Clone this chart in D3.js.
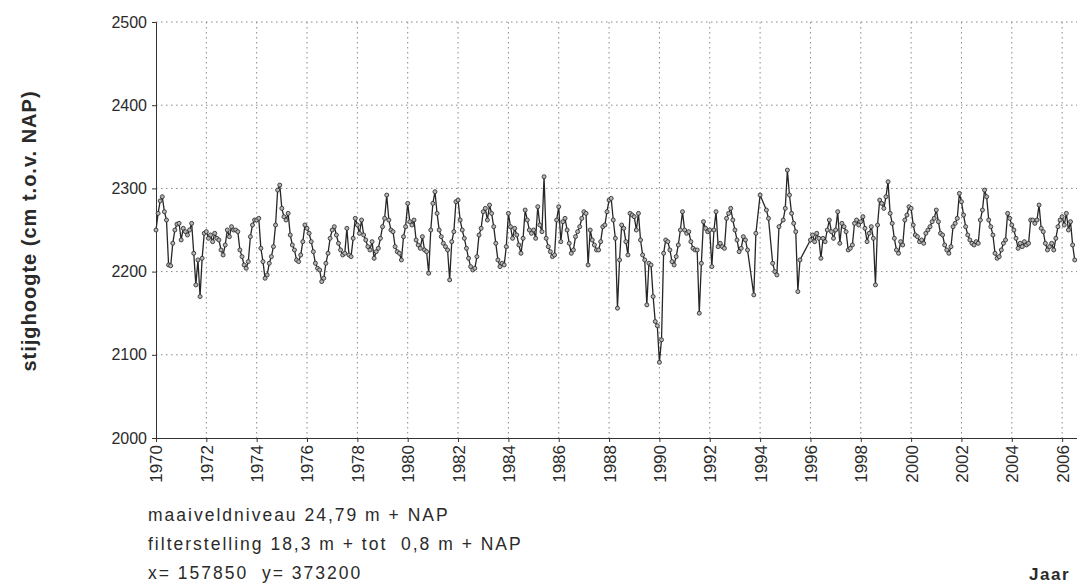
<!DOCTYPE html>
<html>
<head>
<meta charset="utf-8">
<script src="https://cdn.jsdelivr.net/npm/d3@7"></script>
<style>
  html, body { margin: 0; padding: 0; background: #fff; }
  svg { display: block; }
  text { font-family: "Liberation Sans", Arial, sans-serif; fill: #2a2a2a; }
</style>
</head>
<body>
<svg id="chart" width="1077" height="583"></svg>
<script>
// ---- data: monthly groundwater head (cm t.o.v. NAP), Jan 1970 onward (null = no reading)
const startYear = 1970;
const levels = [
  /*1970*/ 2250, 2270, 2285, 2290, 2272, 2262, 2208, 2207, 2234, 2250, 2257, 2258,
  /*1971*/ 2238, 2252, 2248, 2244, 2250, 2258, 2222, 2184, 2214, 2170, 2216, 2246,
  /*1972*/ 2248, 2240, 2244, 2236, 2246, 2240, 2238, 2226, 2220, 2232, 2250, 2242,
  /*1973*/ 2254, 2250, 2250, 2248, 2226, 2218, 2208, 2204, 2212, 2242, 2256, 2262,
  /*1974*/ 2262, 2264, 2228, 2212, 2192, 2196, 2210, 2218, 2230, 2256, 2298, 2304,
  /*1975*/ 2276, 2266, 2262, 2270, 2244, 2232, 2226, 2214, 2212, 2220, 2236, 2256,
  /*1976*/ 2252, 2246, 2236, 2224, 2210, 2204, 2202, 2188, 2192, 2210, 2222, 2240,
  /*1977*/ 2250, 2254, 2244, 2234, 2226, 2220, 2222, 2252, 2220, 2218, 2240, 2264,
  /*1978*/ 2256, 2246, 2262, 2244, 2238, 2230, 2226, 2236, 2216, 2224, 2228, 2240,
  /*1979*/ 2254, 2264, 2292, 2262, 2250, 2248, 2230, 2224, 2222, 2214, 2242, 2254,
  /*1980*/ 2282, 2260, 2256, 2262, 2238, 2232, 2228, 2242, 2226, 2224, 2198, 2250,
  /*1981*/ 2282, 2296, 2270, 2250, 2242, 2234, 2230, 2226, 2190, 2236, 2248, 2284,
  /*1982*/ 2286, 2262, 2250, 2240, 2228, 2216, 2206, 2202, 2204, 2218, 2244, 2252,
  /*1983*/ 2272, 2276, 2262, 2280, 2270, 2254, 2234, 2214, 2206, 2210, 2208, 2230,
  /*1984*/ 2270, 2254, 2240, 2252, 2244, 2232, 2222, 2240, 2274, 2262, 2250, 2246,
  /*1985*/ 2250, 2240, 2278, 2256, 2248, 2314, 2240, 2230, 2224, 2218, 2220, 2262,
  /*1986*/ 2278, 2236, 2260, 2264, 2250, 2234, 2222, 2226, 2242, 2248, 2254, 2264,
  /*1987*/ 2272, 2270, 2208, 2250, 2238, 2232, 2226, 2226, 2236, 2254, 2256, 2272,
  /*1988*/ 2286, 2288, 2262, 2240, 2156, 2214, 2256, 2252, 2236, 2220, 2270, 2268,
  /*1989*/ 2266, 2250, 2270, 2238, 2220, 2214, 2160, 2210, 2208, 2170, 2140, 2135,
  /*1990*/ 2091, 2118, 2222, 2238, 2236, 2226, 2212, 2208, 2218, 2232, 2250, 2272,
  /*1991*/ 2250, 2246, 2248, 2236, 2228, 2226, 2226, 2150, 2210, 2260, 2252, 2248,
  /*1992*/ 2250, 2206, 2250, 2272, 2230, 2234, 2230, 2228, 2264, 2270, 2276, 2262,
  /*1993*/ 2250, 2238, 2224, 2228, 2242, 2238, 2226, null, null, 2172, 2246, null,
  /*1994*/ 2292, null, null, 2274, 2264, null, 2210, 2200, 2196, 2254, null, 2262,
  /*1995*/ 2276, 2322, 2292, 2270, 2258, 2248, 2176, 2214, null, null, null, null,
  /*1996*/ 2238, 2244, 2236, 2246, 2240, 2216, 2240, 2236, 2250, 2262, 2248, 2240,
  /*1997*/ 2250, 2272, 2234, 2258, 2254, 2248, 2226, 2228, 2232, 2258, 2262, 2256,
  /*1998*/ 2260, 2266, 2252, 2236, 2246, 2254, 2240, 2184, 2256, 2286, 2282, 2276,
  /*1999*/ 2290, 2308, 2270, 2258, 2240, 2226, 2222, 2236, 2232, 2262, 2268, 2278,
  /*2000*/ 2276, 2256, 2244, 2242, 2236, 2238, 2234, 2246, 2250, 2254, 2260, 2264,
  /*2001*/ 2274, 2260, 2246, 2244, 2232, 2226, 2222, 2230, 2254, 2258, 2264, 2294,
  /*2002*/ 2284, 2268, 2254, 2244, 2238, 2234, 2232, 2236, 2234, 2262, 2274, 2298,
  /*2003*/ 2290, 2262, 2254, 2244, 2222, 2216, 2218, 2226, 2234, 2238, 2270, 2264,
  /*2004*/ 2256, 2250, 2240, 2228, 2234, 2230, 2236, 2232, 2234, 2262, 2262, 2258,
  /*2005*/ 2262, 2280, 2252, 2248, 2234, 2226, 2230, 2234, 2226, 2240, 2254, 2262,
  /*2006*/ 2266, 2256, 2270, 2250, 2260, 2232, 2214
];
const yTicks = [2000, 2100, 2200, 2300, 2400, 2500];
const xTicks = [1970,1972,1974,1976,1978,1980,1982,1984,1986,1988,1990,1992,1994,1996,1998,2000,2002,2004,2006];
const yTitle = "stijghoogte (cm t.o.v. NAP)";
const xTitle = "Jaar";
const notes = ["maaiveldniveau 24,79 m + NAP", "filterstelling 18,3 m + tot  0,8 m + NAP", "x= 157850  y= 373200"];

// ---- layout
const svg = d3.select("#chart");
const mLeft = 156, mRight = 1077, mTop = 22, mBottom = 438;
const x = d3.scaleLinear().domain([1970, 2006.59]).range([mLeft, mRight]);
const y = d3.scaleLinear().domain([2000, 2500]).range([mBottom, mTop]);

const pts = levels.map((v, i) => ({ t: startYear + i / 12, v }))
  .filter(d => d.v !== null);

// gridlines
svg.append("g").selectAll("line").data(yTicks.filter(d => d > 2000)).join("line")
  .attr("x1", mLeft).attr("x2", mRight)
  .attr("y1", d => y(d)).attr("y2", d => y(d))
  .attr("stroke", "#888").attr("stroke-width", 1).attr("stroke-dasharray", "1.5,3.5");
svg.append("g").selectAll("line").data(xTicks.filter(d => d > 1970)).join("line")
  .attr("x1", d => x(d)).attr("x2", d => x(d))
  .attr("y1", mTop).attr("y2", mBottom)
  .attr("stroke", "#888").attr("stroke-width", 1).attr("stroke-dasharray", "1.5,3.5");

// axes
const yAxis = d3.axisLeft(y).tickValues(yTicks).tickSize(4).tickPadding(5).tickFormat(d3.format("d"));
const gy = svg.append("g").attr("transform", `translate(${mLeft},0)`).call(yAxis);
gy.select(".domain").attr("stroke", "#333");
gy.selectAll(".tick line").attr("stroke", "#333");
gy.selectAll("text").style("font-size", "16px").attr("fill", "#2a2a2a");

const xAxis = d3.axisBottom(x).tickValues(xTicks).tickSize(4).tickFormat(d3.format("d"));
const gx = svg.append("g").attr("transform", `translate(0,${mBottom})`).call(xAxis);
gx.select(".domain").attr("stroke", "#333");
gx.selectAll(".tick line").attr("stroke", "#333");
gx.selectAll("text")
  .style("font-size", "17px").attr("fill", "#2a2a2a")
  .attr("transform", "rotate(-90)")
  .attr("text-anchor", "end")
  .attr("x", -7).attr("y", 0).attr("dy", "0.35em");

// series line + markers
svg.append("path").datum(pts)
  .attr("d", d3.line().x(d => x(d.t)).y(d => y(d.v)))
  .attr("fill", "none").attr("stroke", "#262626").attr("stroke-width", 1.3);
svg.append("g").selectAll("circle").data(pts).join("circle")
  .attr("cx", d => x(d.t)).attr("cy", d => y(d.v)).attr("r", 2)
  .attr("fill", "#b5b5b5").attr("stroke", "#333").attr("stroke-width", 0.9);

// titles
svg.append("text")
  .attr("transform", `translate(36,${(mTop + mBottom) / 2 + 1}) rotate(-90)`)
  .attr("text-anchor", "middle")
  .style("font-size", "20px").style("font-weight", "bold").style("letter-spacing", "1px")
  .attr("fill", "#333")
  .text(yTitle);

svg.selectAll("text.note").data(notes).join("text").attr("class", "note")
  .attr("x", 148).attr("y", (d, i) => 521 + i * 29)
  .style("font-size", "17.5px").style("letter-spacing", "2px").style("white-space", "pre")
  .text(d => d);

svg.append("text").attr("x", 1070).attr("y", 580).attr("text-anchor", "end")
  .style("font-size", "17px").style("font-weight", "bold").style("letter-spacing", "1.5px")
  .attr("fill", "#444")
  .text(xTitle);
</script>
</body>
</html>
